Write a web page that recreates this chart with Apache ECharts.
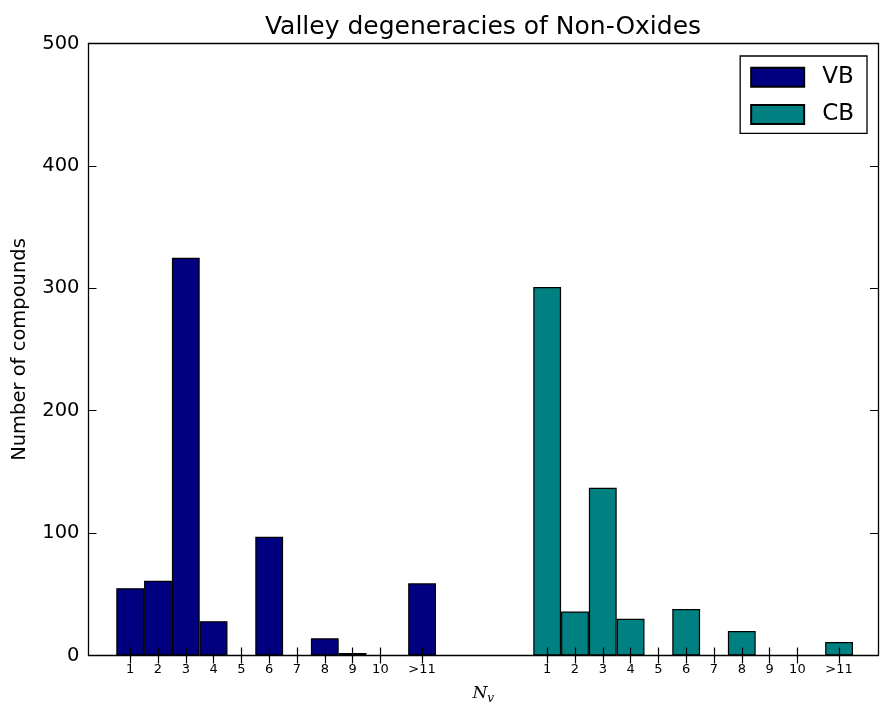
<!DOCTYPE html>
<html>
<head>
<meta charset="utf-8">
<script src="https://cdn.jsdelivr.net/npm/echarts@6/dist/echarts.min.js"></script>
<style>html,body{margin:0;padding:0;background:#fff}#c{width:880px;height:705px}</style>
</head>
<body>
<div id="c"></div>
<script>
var categories = ['1','2','3','4','5','6','7','8','9','10','>11'];
var vbValues = [55, 61, 325, 28, 0, 97, 0, 14, 2, 0, 59];
var cbValues = [301, 36, 137, 30, 0, 38, 0, 20, 0, 0, 11];
var yTicks = [0, 100, 200, 300, 400, 500];

function pos(i){ return i < 10 ? i + 1 : 11.5; }
var vbData = categories.map(function(c,i){ return [pos(i), vbValues[i]]; });
var cbData = categories.map(function(c,i){ return [pos(i) + 15, cbValues[i]]; });
var labelMap = {};
categories.forEach(function(c,i){
  labelMap[Math.round(pos(i)*10)] = c;
  labelMap[Math.round((pos(i)+15)*10)] = c;
});
var yMin = yTicks[0], yMax = yTicks[yTicks.length-1];
var xMin10 = -5, xMax10 = 279;   // x range -0.5 .. 27.9 in tenths
var slots = [];
for (var k = xMin10; k <= xMax10; k++) slots.push(String(k));
function isTick(idx){ return labelMap[idx + xMin10] !== undefined; }

var font = 'DejaVu Sans';
var chart = echarts.init(document.getElementById('c'), null, {renderer:'canvas'});
var axisLine = {show:true, onZero:false, lineStyle:{color:'#000', width:1.3}};
var tickAxis = function(position, showLabel){
  return {
    type:'category', data:slots, boundaryGap:false, position:position, z:4,
    axisLine:{show:false}, splitLine:{show:false},
    axisTick:{show:true, inside:true, length:8, interval:function(i){ return isTick(i); },
      lineStyle:{color:'#000', width:1.2}},
    axisLabel:{show:showLabel, margin:8, fontFamily:font, fontSize:13, color:'#000',
      interval:function(i){ return isTick(i); },
      formatter:function(v){ var s = labelMap[parseInt(v,10)]; return s === undefined ? '' : s; }}
  };
};
chart.setOption({
  animation:false,
  backgroundColor:'#fff',
  textStyle:{fontFamily:font},
  title:{text:'Valley degeneracies of Non-Oxides', left:478, top:10, textAlign:'center',
    textStyle:{fontFamily:font, fontSize:25, fontWeight:'normal', color:'#000'}},
  legend:{
    right:13, top:56, orient:'vertical',
    itemWidth:53, itemHeight:19, itemGap:14.3,
    padding:[9.7,13,7.3,10],
    borderColor:'#000', borderWidth:1.3, borderRadius:0,
    backgroundColor:'#fff',
    textStyle:{fontFamily:font, fontSize:23, color:'#000', padding:[0,0,0,13]},
    data:[{name:'VB', icon:'rect'},{name:'CB', icon:'rect'}]
  },
  grid:{left:88.5, right:2, top:43.5, bottom:49.5, containLabel:false, outerBoundsMode:'none'},
  xAxis:[{
    type:'value', min:xMin10/10, max:xMax10/10, position:'bottom', z:4,
    name:'{n|N}{s|v}', nameLocation:'middle', nameGap:27,
    nameTextStyle:{rich:{n:{fontFamily:'DejaVu Serif', fontStyle:'italic', fontSize:17, color:'#000'},
      s:{fontFamily:'DejaVu Serif', fontStyle:'italic', fontSize:12, color:'#000', verticalAlign:'bottom', padding:[10,0,0,0]}}},
    axisLine:axisLine, splitLine:{show:false}, axisTick:{show:false}, axisLabel:{show:false}
  },{
    type:'value', min:xMin10/10, max:xMax10/10, position:'top', z:4,
    axisLine:axisLine, splitLine:{show:false}, axisTick:{show:false}, axisLabel:{show:false}
  }, tickAxis('bottom', true), tickAxis('top', false)],
  yAxis:[{
    type:'value', min:yMin, max:yMax, interval:100, position:'left', z:4,
    name:'Number of compounds', nameLocation:'middle', nameGap:58.5,
    nameTextStyle:{fontFamily:font, fontSize:19.5, color:'#000'},
    axisLine:axisLine, splitLine:{show:false},
    axisTick:{show:true, inside:true, length:8, lineStyle:{color:'#000'}},
    axisLabel:{margin:9, fontFamily:font, fontSize:19.5, color:'#000'}
  },{
    type:'value', min:yMin, max:yMax, interval:100, position:'right', z:4,
    axisLine:axisLine, splitLine:{show:false},
    axisTick:{show:true, inside:true, length:8, lineStyle:{color:'#000'}},
    axisLabel:{show:false}
  }],
  series:[{
    name:'VB', type:'bar', xAxisIndex:0, yAxisIndex:0, data:vbData,
    barWidth:27.8, barGap:'-100%',
    itemStyle:{color:'#000080', borderColor:'#000', borderWidth:1.2}
  },{
    name:'CB', type:'bar', xAxisIndex:0, yAxisIndex:0, data:cbData,
    barWidth:27.8, barGap:'-100%',
    itemStyle:{color:'#008080', borderColor:'#000', borderWidth:1.2}
  }]
});
</script>
</body>
</html>
